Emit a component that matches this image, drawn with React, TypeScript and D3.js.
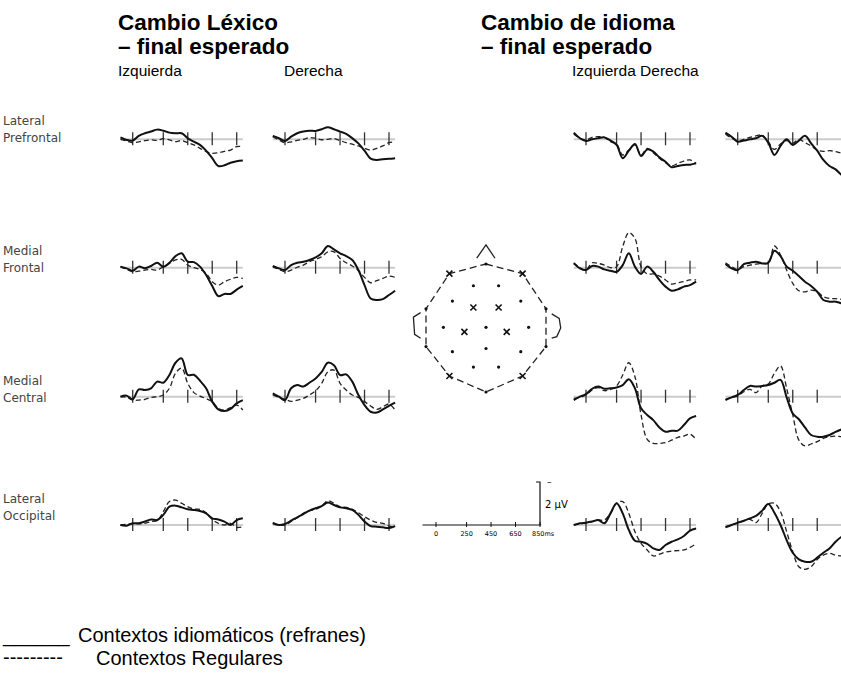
import React, { useRef, useEffect } from 'react';
import * as d3 from 'd3';

// time points (ms) at which the waveforms were read
const times = [-100, -50, 0, 50, 100, 150, 200, 250, 300, 350, 400, 450, 500, 550, 600, 650, 700, 750, 800, 850, 900];
const tickMs = [0, 250, 450, 650, 850];
const scaleLabels = ['0', '250', '450', '650', '850ms'];

const regions = [
  ['Lateral', 'Prefrontal'],
  ['Medial', 'Frontal'],
  ['Medial', 'Central'],
  ['Lateral', 'Occipital'],
];

// µV, negative up. idiom = solid, regular = dashed
// Cambio Léxico – izquierda
const lexIzqPrefIdiom = [-0.09, 0.03, 0.06, -0.16, -0.28, -0.36, -0.45, -0.40, -0.31, -0.28, -0.28, -0.05, 0.11, 0.26, 0.53, 0.88, 1.24, 1.21, 1.09, 1.02, 0.99];
const lexIzqPrefRegular = [0, 0.08, 0.16, 0.12, 0.06, 0.03, 0.05, -0.03, 0.03, 0.11, 0.06, 0.16, 0.26, 0.42, 0.57, 0.65, 0.62, 0.56, 0.50, 0.34, 0.34];
const lexIzqFrontIdiom = [-0.05, 0.03, 0.14, -0.05, 0.03, -0.08, -0.23, -0.05, -0.23, -0.54, -0.67, -0.28, -0.26, -0.05, 0.34, 0.85, 1.32, 1.22, 1.22, 1.02, 0.85];
const lexIzqFrontRegular = [-0.05, 0.08, 0.19, 0.16, 0.11, 0.08, 0.11, -0.05, -0.20, -0.36, -0.39, -0.12, 0, 0.08, 0.26, 0.65, 0.81, 0.65, 0.54, 0.45, 0.50];
const lexIzqCentIdiom = [0, -0.05, 0.12, -0.34, -0.31, -0.39, -0.70, -0.65, -1.01, -1.58, -1.78, -1.01, -1.02, -0.74, -0.39, 0.23, 0.59, 0.67, 0.57, 0.31, 0.16];
const lexIzqCentRegular = [0, 0.03, 0.16, 0.16, 0.12, 0.03, 0, -0.08, -0.39, -1.09, -1.33, -0.62, -0.19, -0.03, 0.09, 0.23, 0.54, 0.62, 0.51, 0.39, 0.62];
const lexIzqOccIdiom = [0, 0.03, -0.08, -0.08, -0.16, -0.26, -0.23, -0.47, -0.85, -0.90, -0.82, -0.73, -0.70, -0.65, -0.54, -0.31, -0.26, -0.16, 0, -0.23, -0.31];
const lexIzqOccRegular = [0, -0.03, -0.05, -0.05, -0.08, -0.16, -0.20, -0.62, -1.09, -1.16, -1.01, -0.85, -0.74, -0.73, -0.57, -0.26, -0.08, 0, -0.08, 0.11, 0.08];

// Cambio Léxico – derecha
const lexDerPrefIdiom = [-0.16, -0.05, 0.08, -0.12, -0.28, -0.36, -0.40, -0.39, -0.47, -0.56, -0.47, -0.36, -0.25, -0.05, 0.19, 0.53, 0.90, 0.96, 0.93, 0.91, 0.88];
const lexDerPrefRegular = [-0.12, 0.03, 0.16, 0.12, 0.05, 0, -0.08, -0.05, 0.02, 0, -0.03, 0.06, 0.16, 0.23, 0.31, 0.42, 0.50, 0.42, 0.31, 0.16, 0.12];
const lexDerFrontIdiom = [-0.08, 0.03, 0.11, -0.12, -0.23, -0.28, -0.36, -0.48, -0.67, -1.01, -0.85, -0.67, -0.54, -0.36, 0.11, 0.81, 1.43, 1.50, 1.46, 1.27, 1.07];
const lexDerFrontRegular = [-0.05, 0.08, 0.19, 0.11, -0.02, -0.12, -0.28, -0.39, -0.51, -0.74, -0.74, -0.43, -0.23, -0.08, 0.14, 0.45, 0.70, 0.60, 0.50, 0.39, 0.45];
const lexDerCentIdiom = [-0.16, 0, 0.16, -0.39, -0.54, -0.47, -0.65, -0.85, -1.15, -1.58, -1.46, -1.01, -1.04, -0.70, -0.08, 0.39, 0.70, 0.74, 0.59, 0.43, 0.28];
const lexDerCentRegular = [-0.08, 0.03, 0.12, 0.22, 0.16, 0.08, -0.08, -0.28, -0.62, -1.16, -1.24, -0.62, -0.31, -0.08, 0.03, 0.23, 0.43, 0.59, 0.47, 0.34, 0.62];
const lexDerOccIdiom = [-0.08, 0, -0.05, -0.20, -0.36, -0.51, -0.67, -0.78, -0.88, -1.05, -0.93, -0.82, -0.78, -0.70, -0.47, -0.16, 0.05, 0.08, 0.11, 0.14, 0.05];
const lexDerOccRegular = [-0.11, 0, 0, -0.16, -0.34, -0.54, -0.67, -0.73, -0.88, -1.13, -1.01, -0.85, -0.82, -0.73, -0.57, -0.39, -0.23, -0.12, -0.08, 0.05, 0.11];

// Cambio de idioma – izquierda
const langIzqPrefIdiom = [-0.31, -0.05, 0.08, 0, -0.05, -0.09, 0.06, 0.26, 0.88, 0.53, 0.22, 0.78, 0.47, 0.57, 0.84, 1.04, 1.30, 1.24, 1.19, 1.18, 1.12];
const langIzqPrefRegular = [-0.25, -0.05, 0.03, -0.09, -0.12, -0.09, 0.11, 0.22, 0.73, 0.50, 0.26, 0.73, 0.42, 0.62, 0.88, 1.09, 1.24, 1.12, 1.01, 0.96, 1.12];
const langIzqFrontIdiom = [-0.20, 0.03, 0.11, -0.08, -0.05, 0.08, 0.14, 0.19, -0.12, -0.67, -0.05, 0.29, -0.05, 0.19, 0.57, 0.88, 1.07, 1.01, 0.88, 0.81, 0.65];
const langIzqFrontRegular = [-0.23, 0, 0.11, -0.23, -0.20, -0.12, 0, -0.05, -0.98, -1.63, -1.36, -0.05, 0.29, 0.29, 0.39, 0.57, 0.76, 0.70, 0.64, 0.57, 0.57];
const langIzqCentIdiom = [0.16, 0, -0.12, -0.37, -0.47, -0.37, -0.39, -0.43, -0.54, -0.81, -0.39, 0.54, 0.85, 1.09, 1.43, 1.63, 1.58, 1.58, 1.32, 1.01, 0.90];
const langIzqCentRegular = [0.08, 0.03, -0.08, -0.31, -0.42, -0.28, -0.34, -0.50, -1.01, -1.58, -0.93, 0.85, 1.98, 2.17, 2.17, 2.14, 2.02, 1.89, 1.83, 1.74, 1.98];
const langIzqOccIdiom = [0, -0.08, -0.11, -0.16, -0.23, -0.08, -0.54, -1.01, -0.54, 0.23, 0.73, 0.78, 0.88, 1.09, 1.16, 0.93, 0.78, 0.67, 0.51, 0.26, 0.16];
const langIzqOccRegular = [0, -0.05, -0.11, -0.16, -0.23, -0.23, -0.54, -1.01, -1.09, -0.54, 0.31, 0.85, 1.16, 1.44, 1.36, 1.26, 1.21, 1.19, 1.16, 1.04, 0.88];

// Cambio de idioma – derecha
const langDerPrefIdiom = [-0.31, -0.12, 0.11, 0.06, 0, -0.05, -0.16, 0.16, 0.73, 0.31, 0, 0.26, 0.06, -0.16, 0.19, 0.53, 0.96, 1.24, 1.40, 1.66, 1.77];
const langDerPrefRegular = [-0.25, -0.05, 0.06, 0, -0.09, -0.16, -0.20, 0.11, 0.47, 0.22, 0.06, 0.19, 0, 0.16, 0.31, 0.50, 0.56, 0.53, 0.57, 0.65, 0.68];
const langDerFrontIdiom = [-0.17, 0.03, 0.11, -0.17, -0.23, -0.28, -0.20, -0.23, -0.79, -0.54, -0.05, 0.14, 0.39, 0.65, 0.85, 1.12, 1.50, 1.58, 1.58, 1.66, 1.69];
const langDerFrontRegular = [-0.23, -0.05, 0.08, -0.05, -0.12, -0.17, -0.20, -0.20, -1.01, -0.59, 0.11, 0.73, 1.07, 1.12, 1.04, 1.12, 1.35, 1.43, 1.44, 1.47, 1.50];
const langDerCentIdiom = [0.16, 0.03, -0.08, -0.31, -0.50, -0.47, -0.50, -0.54, -0.65, -0.78, 0.03, 0.78, 1.05, 1.43, 1.78, 1.86, 1.86, 1.78, 1.64, 1.52, 1.43];
const langDerCentRegular = [0.12, 0.03, -0.03, -0.23, -0.34, -0.19, -0.50, -0.59, -1.09, -1.43, -0.39, 0.85, 2.02, 2.29, 2.20, 2.09, 1.94, 1.86, 1.83, 1.86, 1.86];
const langDerOccIdiom = [0.11, 0, -0.11, -0.20, -0.31, -0.42, -0.67, -0.98, -0.57, 0, 0.70, 1.29, 1.60, 1.71, 1.71, 1.52, 1.29, 1.09, 0.78, 0.54, 0.39];
const langDerOccRegular = [0.08, 0, -0.08, -0.20, -0.26, -0.11, -0.54, -0.98, -1.01, -0.62, 0.31, 1.24, 1.94, 2.06, 1.94, 1.60, 1.40, 1.32, 1.40, 1.44, 1.47];

// head map, in head units (x: -1 left .. 1 right, y: -1 front .. 1 back)
const headOutline = [[0, -1], [0.61, -0.85], [1, -0.3], [1, 0.29], [0.61, 0.75], [0, 1], [-0.61, 0.75], [-1, 0.29], [-1, -0.3], [-0.61, -0.85]];
const nose = [[-0.155, -1.09], [0, -1.3], [0.15, -1.09]];
const leftEar = [[-1.09, -0.24], [-1.21, -0.17], [-1.19, 0.1], [-1.09, 0.16]];
const rightEar = [[1.095, -0.22], [1.22, -0.15], [1.245, 0.0], [1.18, 0.135], [1.095, 0.16]];
const dotSites = [[0, -1], [-1, -0.3], [1, -0.3], [-1, 0.29], [1, 0.29], [0, 1],
  [-0.21, -0.66], [0.21, -0.66], [-0.56, -0.42], [0.58, -0.42], [-0.71, -0.01], [0, -0.01], [0.71, -0.01],
  [-0.56, 0.37], [0.58, 0.37], [0, 0.32], [-0.21, 0.61], [0.21, 0.61]];
const crossSites = [[-0.61, -0.85], [0.61, -0.85], [-0.61, 0.75], [0.61, 0.75],
  [-0.21, -0.32], [0.21, -0.32], [-0.36, 0.06], [0.345, 0.06]];

const App = () => {
  const ref = useRef(null);

  useEffect(() => {
    const width = 841;
    const height = 677;
    const svg = d3.select(ref.current);
    svg.selectAll('*').remove();
    svg.attr('width', width).attr('height', height);

    const panels = [
      [lexIzqPrefIdiom, lexIzqPrefRegular, lexDerPrefIdiom, lexDerPrefRegular, langIzqPrefIdiom, langIzqPrefRegular, langDerPrefIdiom, langDerPrefRegular],
      [lexIzqFrontIdiom, lexIzqFrontRegular, lexDerFrontIdiom, lexDerFrontRegular, langIzqFrontIdiom, langIzqFrontRegular, langDerFrontIdiom, langDerFrontRegular],
      [lexIzqCentIdiom, lexIzqCentRegular, lexDerCentIdiom, lexDerCentRegular, langIzqCentIdiom, langIzqCentRegular, langDerCentIdiom, langDerCentRegular],
      [lexIzqOccIdiom, lexIzqOccRegular, lexDerOccIdiom, lexDerOccRegular, langIzqOccIdiom, langIzqOccRegular, langDerOccIdiom, langDerOccRegular],
    ];

    //panel layout
    const colX0 = [132.7, 285, 586, 737.7];
    const rowBase = [139.3, 267.7, 396.7, 525];
    const labelOffset = [[-14, 3], [-13, 4], [-12, 5], [-22, -5]];
    const msWidth = 104; // px for 850 ms
    const uvPx = 21.5; // px per µV

    const g = svg.append('g');

    //titles
    const sans = 'Liberation Sans, Arial, sans-serif';
    const titles = [
      { x: 118, lines: ['Cambio Léxico', '– final esperado'] },
      { x: 481, lines: ['Cambio de idioma', '– final esperado'] },
    ];
    titles.forEach(t => {
      t.lines.forEach((l, i) => {
        g.append('text').attr('x', t.x).attr('y', 30 + i * 24)
          .style('font-family', sans).style('font-size', '22.5px').style('font-weight', 'bold')
          .text(l);
      });
    });
    [['Izquierda', 118], ['Derecha', 284], ['Izquierda Derecha', 572]].forEach(([s, x]) => {
      g.append('text').attr('x', x).attr('y', 76)
        .style('font-family', sans).style('font-size', '15.5px').text(s);
    });

    //region labels
    regions.forEach((lines, r) => {
      lines.forEach((l, i) => {
        g.append('text').attr('x', 3).attr('y', rowBase[r] + labelOffset[r][i])
          .style('font-family', 'DejaVu Sans, sans-serif').style('font-size', '12px')
          .style('fill', '#444').text(l);
      });
    });

    //waveform panels
    panels.forEach((row, r) => {
      colX0.forEach((x0, c) => {
        const x = d3.scaleLinear().domain([0, 850]).range([x0, x0 + msWidth]);
        const y = d3.scaleLinear().domain([-2, 2]).range([rowBase[r] - 2 * uvPx, rowBase[r] + 2 * uvPx]);
        const pg = g.append('g');

        pg.append('line')
          .attr('x1', x(-100)).attr('x2', x(900))
          .attr('y1', y(0)).attr('y2', y(0))
          .attr('stroke', '#cccccc').attr('stroke-width', 2);

        pg.selectAll('line.tick')
          .data(tickMs)
          .join('line')
          .attr('class', 'tick')
          .attr('x1', d => x(d)).attr('x2', d => x(d))
          .attr('y1', y(0) - 7).attr('y2', y(0) + 6)
          .attr('stroke', '#333').attr('stroke-width', 1.3);

        const line = d3.line()
          .x((d, i) => x(times[i]))
          .y(d => y(d))
          .curve(d3.curveCatmullRom.alpha(0.5));

        pg.append('path')
          .attr('d', line(row[c * 2 + 1]))
          .attr('fill', 'none').attr('stroke', '#222').attr('stroke-width', 1.3)
          .attr('stroke-dasharray', '5,3');

        pg.append('path')
          .attr('d', line(row[c * 2]))
          .attr('fill', 'none').attr('stroke', '#111').attr('stroke-width', 2);
      });
    });

    //head map
    const hx = d3.scaleLinear().domain([-1, 1]).range([426, 546]);
    const hy = d3.scaleLinear().domain([-1, 1]).range([264, 392]);
    const hline = d3.line().x(d => hx(d[0])).y(d => hy(d[1]));
    const hg = g.append('g');
    hg.append('path')
      .attr('d', hline(headOutline) + 'Z')
      .attr('fill', 'none').attr('stroke', '#222').attr('stroke-width', 1.3)
      .attr('stroke-dasharray', '7,4');
    [nose, leftEar, rightEar].forEach(p => {
      hg.append('path').attr('d', hline(p))
        .attr('fill', 'none').attr('stroke', '#222').attr('stroke-width', 1.3);
    });
    hg.selectAll('circle')
      .data(dotSites)
      .join('circle')
      .attr('cx', d => hx(d[0])).attr('cy', d => hy(d[1]))
      .attr('r', 1.6).attr('fill', '#111');
    crossSites.forEach(d => {
      const cx = hx(d[0]);
      const cy = hy(d[1]);
      hg.append('path')
        .attr('d', `M${cx - 3},${cy - 3}L${cx + 3},${cy + 3}M${cx + 3},${cy - 3}L${cx - 3},${cy + 3}`)
        .attr('stroke', '#111').attr('stroke-width', 1.6);
    });

    //scale bar
    const sx = d3.scaleLinear().domain([0, 850]).range([436, 436 + msWidth]);
    const sy = d3.scaleLinear().domain([-2, 2]).range([525 - 2 * uvPx, 525 + 2 * uvPx]);
    const sg = g.append('g');
    sg.append('line')
      .attr('x1', sx(-110)).attr('x2', sx(860))
      .attr('y1', sy(0)).attr('y2', sy(0))
      .attr('stroke', '#111').attr('stroke-width', 1);
    sg.selectAll('line.stick')
      .data(tickMs)
      .join('line')
      .attr('class', 'stick')
      .attr('x1', d => sx(d)).attr('x2', d => sx(d))
      .attr('y1', sy(0) - 3).attr('y2', sy(0) + 2)
      .attr('stroke', '#111').attr('stroke-width', 1);
    sg.append('path')
      .attr('d', `M${sx(850) - 4},${sy(-2)}H${sx(850)}V${sy(0)}`)
      .attr('fill', 'none').attr('stroke', '#111').attr('stroke-width', 1.2);
    sg.selectAll('text.slab')
      .data(tickMs)
      .join('text')
      .attr('class', 'slab')
      .attr('x', (d, i) => i === 4 ? sx(d) - 8 : sx(d))
      .attr('y', sy(0) + 11)
      .attr('text-anchor', (d, i) => i === 4 ? 'start' : 'middle')
      .style('font-family', 'DejaVu Sans, sans-serif').style('font-size', '6.5px')
      .text((d, i) => scaleLabels[i]);
    sg.append('text').attr('x', sx(850) + 7).attr('y', sy(-2) + 3)
      .style('font-family', 'DejaVu Sans, sans-serif').style('font-size', '9px').text('–');
    sg.append('text').attr('x', sx(850) + 5).attr('y', sy(-1) + 4)
      .style('font-family', 'DejaVu Sans, sans-serif').style('font-size', '10px').text('2  µV');

    //legend
    g.append('text').attr('x', 3).attr('y', 642)
      .style('font-family', sans).style('font-size', '20px').text('______');
    g.append('text').attr('x', 78).attr('y', 642)
      .style('font-family', sans).style('font-size', '20px').text('Contextos idiomáticos (refranes)');
    g.append('text').attr('x', 3).attr('y', 664)
      .style('font-family', sans).style('font-size', '20px').text('---------');
    g.append('text').attr('x', 96).attr('y', 665)
      .style('font-family', sans).style('font-size', '20px').text('Contextos Regulares');
  }, []);

  return (
    <svg ref={ref} style={{ position: 'absolute', left: 0, top: 0, display: 'block' }}></svg>
  );
};

export default App;
